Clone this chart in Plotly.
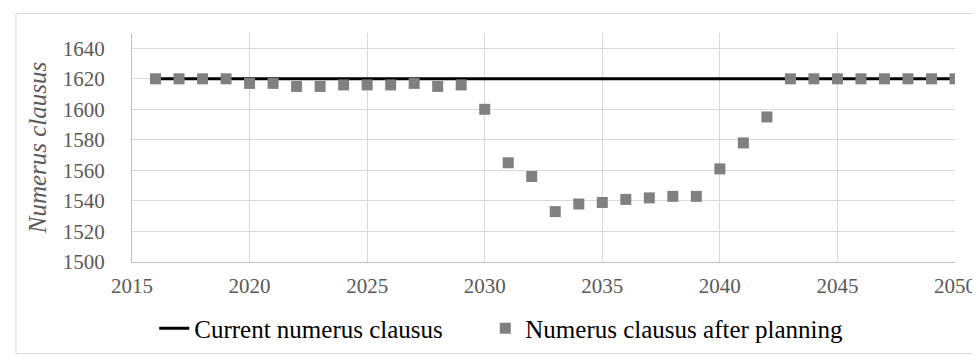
import plotly.graph_objects as go

years = list(range(2016, 2051))
current = [1620] * len(years)
after_planning = [1620, 1620, 1620, 1620, 1617, 1617, 1615, 1615, 1616, 1616,
                  1616, 1617, 1615, 1616, 1600, 1565, 1556, 1533, 1538, 1539,
                  1541, 1542, 1543, 1543, 1561, 1578, 1595, 1620, 1620, 1620,
                  1620, 1620, 1620, 1620, 1620]
x_ticks = [2015, 2020, 2025, 2030, 2035, 2040, 2045, 2050]
y_ticks = [1500, 1520, 1540, 1560, 1580, 1600, 1620, 1640]
series_names = ["Current numerus clausus", "Numerus clausus after planning"]

FONT = "Liberation Serif"
TXT = "#595959"
NBSP_PAD = "\u00a0" * 6  # visual gap between the two legend entries

fig = go.Figure()
fig.add_trace(go.Scatter(x=years, y=current, mode="lines",
                         line=dict(color="black", width=3),
                         name=series_names[0] + NBSP_PAD))
fig.add_trace(go.Scatter(x=years, y=after_planning, mode="markers",
                         marker=dict(symbol="square", size=11, color="#808080"),
                         name=series_names[1]))

fig.update_layout(
    width=980, height=356,
    margin=dict(l=124, r=26, t=25, b=96),
    paper_bgcolor="white", plot_bgcolor="white",
    font=dict(family=FONT, size=21, color=TXT),
    showlegend=True,
    legend=dict(orientation="h", x=0.027, xanchor="left", y=-0.29, yanchor="middle",
                font=dict(family=FONT, size=25, color="black"),
                itemwidth=30, tracegroupgap=0, bgcolor="rgba(0,0,0,0)"),
    xaxis=dict(range=[2015, 2050], tickvals=x_ticks, showgrid=True,
               gridcolor="#d9d9d9", gridwidth=1, showline=True,
               linecolor="#bfbfbf", linewidth=1, zeroline=False,
               ticks="", ticklabelstandoff=5,
               tickfont=dict(family=FONT, size=21, color=TXT)),
    yaxis=dict(range=[1500, 1650], tickvals=y_ticks, showgrid=True,
               gridcolor="#d9d9d9", gridwidth=1, showline=True,
               linecolor="#bfbfbf", linewidth=1, zeroline=False,
               ticks="", ticklabelstandoff=22,
               tickfont=dict(family=FONT, size=21, color=TXT),
               title=dict(text="<i>Numerus clausus</i>", standoff=9,
                          font=dict(family=FONT, size=25, color=TXT))),
    shapes=[dict(type="rect", xref="paper", yref="paper",
                 x0=-117/830, x1=1 + 23/830, y0=-94/235, y1=1 + 20/235,
                 line=dict(color="#d9d9d9", width=1), fillcolor="rgba(0,0,0,0)",
                 layer="below")],
)

fig.write_html("out.html")
